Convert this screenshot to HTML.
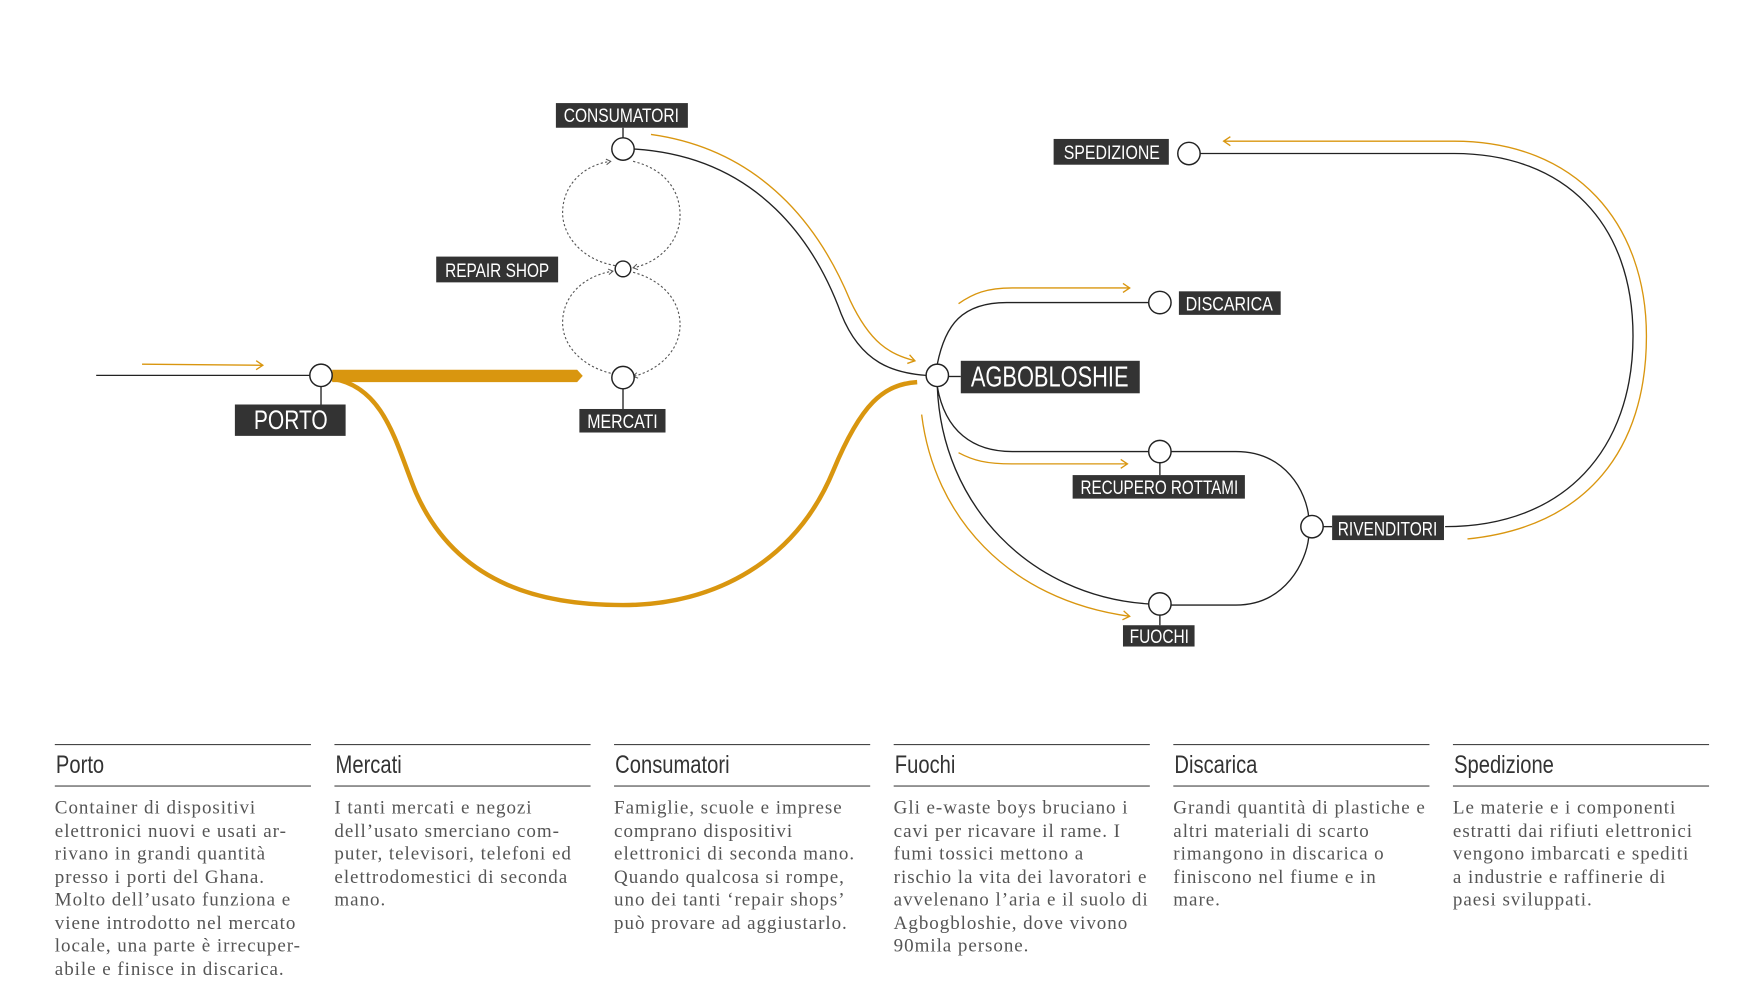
<!DOCTYPE html>
<html><head><meta charset="utf-8"><style>
html,body{margin:0;padding:0;background:#fff;width:1751px;height:994px;overflow:hidden}
#wrap{position:absolute;left:0;top:0;width:1560px;height:886px;transform:scale(1.1185,1.1205);transform-origin:0 0}
svg{position:absolute;left:0;top:0}
.lbl{font-family:"Liberation Sans",sans-serif;fill:#fff}
.col{position:absolute;top:664px;width:229px}
.col .t{border-top:1.3px solid #444;border-bottom:1.3px solid #444;height:36px;font-family:"Liberation Sans",sans-serif;font-size:22px;color:#333;line-height:36px;padding-left:1px;overflow:hidden}
.col .t span{display:inline-block;transform:scaleX(0.82);transform-origin:0 50%}
.col .b{font-family:"Liberation Serif",serif;font-size:17px;letter-spacing:0.85px;line-height:20.5px;color:#555;margin-top:9px;white-space:nowrap}
</style></head><body><div id="wrap">
<svg width="1560" height="886" viewBox="0 0 1560 886">
<defs>
<marker id="ah" markerWidth="10" markerHeight="10" refX="8" refY="5" orient="auto" markerUnits="userSpaceOnUse"><path d="M2,1 L8,5 L2,9" fill="none" stroke="#d9960f" stroke-width="1.2"/></marker>
<marker id="dh" markerWidth="8" markerHeight="8" refX="6" refY="4" orient="auto" markerUnits="userSpaceOnUse"><path d="M2,1.5 L6,4 L2,6.5" fill="none" stroke="#555" stroke-width="0.9"/></marker>
</defs>
<g fill="none" stroke="#d9960f" stroke-width="1.2">
<path d="M127,325 L235,326" marker-end="url(#ah)"/>
<path d="M582,120 C690,135 738,215 760,268 C778,306 795,316 818,322" marker-end="url(#ah)"/>
<path d="M857,271 C870,262 882,257 905,257 L1010,257" marker-end="url(#ah)"/>
<path d="M857,404 C870,411 882,414 905,414 L1008,414" marker-end="url(#ah)"/>
<path d="M824,370 C835,460 900,535 1010,550" marker-end="url(#ah)"/>
<path d="M1312,481 C1420,470 1472,400 1472,300 C1472,200 1410,126 1300,126 L1094,126" marker-end="url(#ah)"/>
</g>
<path d="M297,338 C345,345 355,400 372,440 C410,525 490,540 557,540 C640,540 712,500 745,420 C770,360 790,343 820,341" fill="none" stroke="#d9960f" stroke-width="4"/>
<path d="M297,330 L516,330 L521,335.5 L516,341 L297,341 Z" fill="#d9960f"/>
<g fill="none" stroke="#555" stroke-width="1" stroke-dasharray="2,2">
<path d="M550,237 C520,232 503,210 503,190 C503,165 522,147 546,144" marker-end="url(#dh)"/>
<path d="M566,144 C592,150 608,168 608,192 C608,215 590,234 566,239" marker-end="url(#dh)"/>
<path d="M550,334 C520,328 503,308 503,288 C503,264 522,246 548,242" marker-end="url(#dh)"/>
<path d="M566,243 C592,250 608,268 608,290 C608,312 590,330 566,336" marker-end="url(#dh)"/>
</g>
<g fill="none" stroke="#222" stroke-width="1.2">
<path d="M86,335 L277,335"/>
<path d="M287,345 L287,361"/>
<path d="M557,347 L557,365"/>
<path d="M557,114 L557,123"/>
<path d="M567,133 C680,140 730,220 752,280 C770,325 800,333 828,335"/>
<path d="M848,336 L859,336"/>
<path d="M838,325 C845,290 860,270 900,270 L1027,270"/>
<path d="M838,345 C845,385 870,403 905,403 L1027,403"/>
<path d="M838,345 C842,450 920,532 1027,539"/>
<path d="M1037,413 L1037,424"/>
<path d="M1037,549 L1037,558"/>
<path d="M1047,403 L1105,403 C1150,403 1168,440 1170,461"/>
<path d="M1047,540 L1105,540 C1150,540 1168,500 1170,480"/>
<path d="M1183,470 L1191,470"/>
<path d="M1292,470 C1400,470 1460,400 1460,300 C1460,200 1400,137 1300,137 L1073,137"/>
</g>
<g fill="#fff" stroke="#222" stroke-width="1.3">
<circle cx="287" cy="335" r="10"/><circle cx="557" cy="337" r="10"/><circle cx="557" cy="240" r="7"/><circle cx="557" cy="133" r="10"/>
<circle cx="838" cy="335" r="10"/><circle cx="1037" cy="270" r="10"/><circle cx="1037" cy="403" r="10"/><circle cx="1037" cy="539" r="10"/><circle cx="1173" cy="470" r="10"/><circle cx="1063" cy="137" r="10"/>
</g>
<g fill="#333">
<rect x="210" y="361" width="99" height="28"/><rect x="518" y="365" width="77" height="21"/><rect x="390" y="229" width="109" height="23"/>
<rect x="497" y="92" width="118" height="22"/><rect x="859" y="322" width="160" height="29"/><rect x="1054" y="260" width="91" height="21"/>
<rect x="959" y="424" width="154" height="21"/><rect x="1004" y="558" width="64" height="19"/><rect x="1191" y="460" width="100" height="22"/><rect x="942" y="124" width="103" height="23"/>
</g>
<g class="lbl">
<text x="227" y="383" font-size="24" textLength="66" lengthAdjust="spacingAndGlyphs">PORTO</text>
<text x="525" y="382" font-size="17" textLength="63" lengthAdjust="spacingAndGlyphs">MERCATI</text>
<text x="398" y="247" font-size="17" textLength="93" lengthAdjust="spacingAndGlyphs">REPAIR SHOP</text>
<text x="504" y="109" font-size="17" textLength="103" lengthAdjust="spacingAndGlyphs">CONSUMATORI</text>
<text x="868" y="345" font-size="26" textLength="141" lengthAdjust="spacingAndGlyphs">AGBOBLOSHIE</text>
<text x="1060" y="277" font-size="17" textLength="78" lengthAdjust="spacingAndGlyphs">DISCARICA</text>
<text x="966" y="441" font-size="17" textLength="141" lengthAdjust="spacingAndGlyphs">RECUPERO ROTTAMI</text>
<text x="1010" y="574" font-size="17" textLength="53" lengthAdjust="spacingAndGlyphs">FUOCHI</text>
<text x="1196" y="478" font-size="17" textLength="89" lengthAdjust="spacingAndGlyphs">RIVENDITORI</text>
<text x="951" y="142" font-size="17" textLength="86" lengthAdjust="spacingAndGlyphs">SPEDIZIONE</text>
</g>
</svg>
<div class="col" style="left:49px"><div class="t"><span>Porto</span></div><div class="b">Container di dispositivi<br>elettronici nuovi e usati ar-<br>rivano in grandi quantità<br>presso i porti del Ghana.<br>Molto dell’usato funziona e<br>viene introdotto nel mercato<br>locale, una parte è irrecuper-<br>abile e finisce in discarica.</div></div>
<div class="col" style="left:299px"><div class="t"><span>Mercati</span></div><div class="b">I tanti mercati e negozi<br>dell’usato smerciano com-<br>puter, televisori, telefoni ed<br>elettrodomestici di seconda<br>mano.</div></div>
<div class="col" style="left:549px"><div class="t"><span>Consumatori</span></div><div class="b">Famiglie, scuole e imprese<br>comprano dispositivi<br>elettronici di seconda mano.<br>Quando qualcosa si rompe,<br>uno dei tanti ‘repair shops’<br>può provare ad aggiustarlo.</div></div>
<div class="col" style="left:799px"><div class="t"><span>Fuochi</span></div><div class="b">Gli e-waste boys bruciano i<br>cavi per ricavare il rame. I<br>fumi tossici mettono a<br>rischio la vita dei lavoratori e<br>avvelenano l’aria e il suolo di<br>Agbogbloshie, dove vivono<br>90mila persone.</div></div>
<div class="col" style="left:1049px"><div class="t"><span>Discarica</span></div><div class="b">Grandi quantità di plastiche e<br>altri materiali di scarto<br>rimangono in discarica o<br>finiscono nel fiume e in<br>mare.</div></div>
<div class="col" style="left:1299px"><div class="t"><span>Spedizione</span></div><div class="b">Le materie e i componenti<br>estratti dai rifiuti elettronici<br>vengono imbarcati e spediti<br>a industrie e raffinerie di<br>paesi sviluppati.</div></div>
</div></body></html>
